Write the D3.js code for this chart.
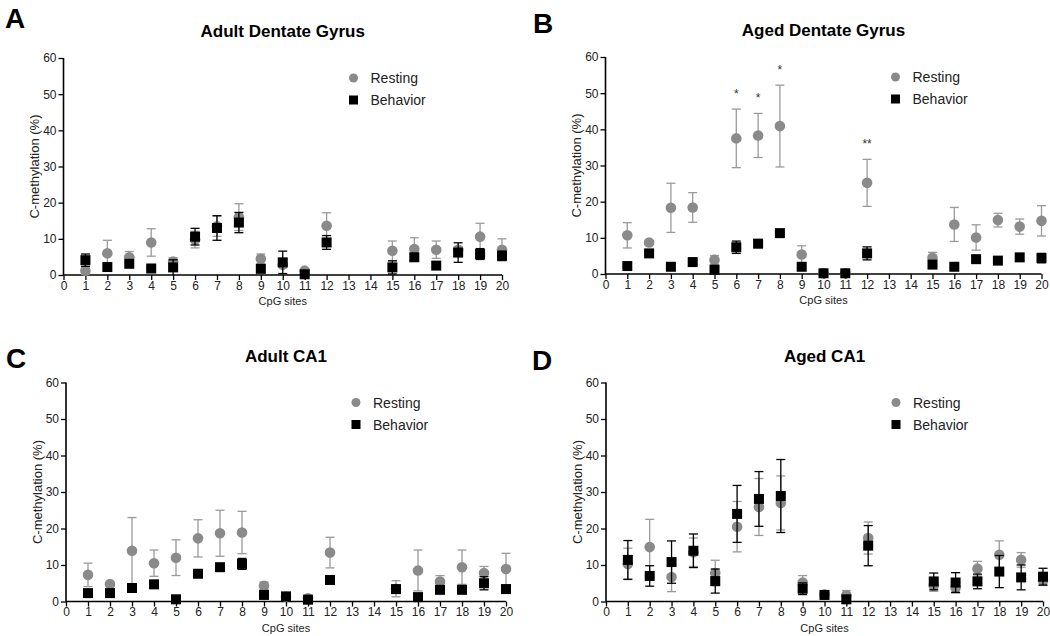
<!DOCTYPE html>
<html>
<head>
<meta charset="utf-8">
<script src="https://cdn.jsdelivr.net/npm/d3@7"></script>
<style>
  html, body { margin: 0; padding: 0; background: #fff; }
  svg { display: block; font-family: "Liberation Sans", Arial, sans-serif; }
</style>
</head>
<body>
<svg id="chart" width="1050" height="636"></svg>
<script>
// ---------- data ----------
const sites = [1, 2, 3, 4, 5, 6, 7, 8, 9, 10, 11, 12, 15, 16, 17, 18, 19, 20];
const xTickLabels = [0, 1, 2, 3, 4, 5, 6, 7, 8, 9, 10, 11, 12, 13, 14, 15, 16, 17, 18, 19, 20];
const yTickLabels = [0, 10, 20, 30, 40, 50, 60];
const panelLetters = ["A", "B", "C", "D"];
const panelTitles = ["Adult Dentate Gyrus", "Aged Dentate Gyrus", "Adult CA1", "Aged CA1"];
const seriesNames = ["Resting", "Behavior"];

// Adult Dentate Gyrus
const adultDGResting     = [1.2, 6.0, 4.9, 9.0, 3.7, 9.8, 13.5, 16.0, 4.5, 2.8, 1.2, 13.6, 6.7, 7.2, 7.0, 7.0, 10.6, 7.0];
const adultDGRestingErr  = [1.0, 3.6, 1.6, 3.8, 1.1, 2.3, 2.8, 3.7, 1.3, 0.6, 0.4, 3.6, 2.7, 3.1, 2.4, 0.9, 3.7, 3.0];
const adultDGBehavior    = [4.1, 2.2, 3.1, 1.8, 2.1, 10.6, 13.0, 14.5, 1.7, 3.5, 0.2, 9.0, 2.1, 4.9, 2.6, 6.2, 5.8, 5.3];
const adultDGBehaviorErr = [1.7, 0.5, 0.5, 0.3, 2.1, 2.3, 3.4, 2.8, 0.5, 3.1, 0.3, 1.9, 1.8, 1.0, 0.4, 2.7, 1.5, 1.3];

// Aged Dentate Gyrus
const agedDGResting     = [10.7, 8.7, 18.3, 18.4, 3.9, 37.5, 38.3, 40.9, 5.4, 0.2, 0.2, 25.2, 4.5, 13.7, 10.1, 14.9, 13.1, 14.7];
const agedDGRestingErr  = [3.5, 0.4, 6.8, 4.1, 1.2, 8.1, 6.1, 11.3, 2.4, 0.1, 0.1, 6.5, 1.5, 4.7, 3.5, 1.9, 2.1, 4.2];
const agedDGBehavior    = [2.2, 5.7, 2.0, 3.3, 1.2, 7.4, 8.4, 11.3, 2.0, 0.2, 0.2, 5.7, 2.6, 2.0, 4.1, 3.7, 4.6, 4.4];
const agedDGBehaviorErr = [0.3, 0.5, 0.3, 0.5, 0.3, 1.7, 1.1, 0.4, 0.3, 0.1, 0.1, 1.8, 0.4, 0.3, 0.6, 0.4, 1.0, 1.3];
const agedDGStarSites = [6, 7, 8, 12];
const agedDGStarMarks = ["*", "*", "*", "**"];

// Adult CA1
const adultCA1Resting     = [7.3, 4.8, 13.9, 10.5, 12.0, 17.3, 18.7, 18.9, 4.3, 1.3, 0.9, 13.4, 3.5, 8.5, 5.5, 9.4, 7.8, 8.9];
const adultCA1RestingErr  = [3.2, 0.4, 9.1, 3.6, 4.9, 5.1, 6.3, 5.8, 1.0, 0.5, 0.4, 4.2, 2.2, 5.6, 1.6, 4.7, 1.8, 4.3];
const adultCA1Behavior    = [2.3, 2.3, 3.7, 4.7, 0.6, 7.6, 9.4, 10.3, 1.8, 1.4, 0.5, 5.9, 3.4, 1.2, 3.2, 3.2, 5.0, 3.4];
const adultCA1BehaviorErr = [0.3, 0.3, 0.5, 0.5, 0.3, 0.5, 0.7, 1.5, 0.3, 0.8, 0.3, 0.8, 0.5, 0.3, 0.4, 0.4, 1.8, 0.4];

// Aged CA1
const agedCA1Resting     = [10.3, 14.9, 6.7, 13.5, 7.8, 20.5, 25.9, 27.0, 5.2, 1.9, 1.7, 17.4, 4.3, 3.8, 9.0, 12.8, 11.4, 5.7];
const agedCA1RestingErr  = [4.3, 7.6, 4.0, 3.9, 3.5, 6.9, 7.8, 7.4, 1.9, 1.0, 1.3, 4.4, 1.5, 1.5, 2.0, 3.8, 2.0, 1.3];
const agedCA1Behavior    = [11.4, 7.0, 10.8, 13.9, 5.6, 24.0, 28.1, 28.9, 3.5, 1.8, 0.6, 15.3, 5.5, 5.2, 5.5, 8.2, 6.6, 6.8];
const agedCA1BehaviorErr = [5.3, 2.8, 5.8, 4.6, 3.3, 7.8, 7.5, 10.0, 1.6, 1.0, 0.5, 5.5, 2.3, 2.7, 2.0, 4.4, 3.4, 2.3];

// ---------- layout ----------
const layouts = [
  { xL: 63.5, xR: 502,    yB: 275,   yT: 58,    letterX: 5,   letterY: 28 },
  { xL: 605.5, xR: 1041.5, yB: 274,  yT: 57,    letterX: 533, letterY: 33 },
  { xL: 66,   xR: 506,    yB: 601.5, yT: 382.5, letterX: 6,   letterY: 368 },
  { xL: 606,  xR: 1043,   yB: 601.5, yT: 382.5, letterX: 532, letterY: 370 }
];

const panelData = [
  { r: adultDGResting, re: adultDGRestingErr, b: adultDGBehavior, be: adultDGBehaviorErr },
  { r: agedDGResting, re: agedDGRestingErr, b: agedDGBehavior, be: agedDGBehaviorErr,
    stars: agedDGStarSites.map((s, i) => ({ site: s, mark: agedDGStarMarks[i] })) },
  { r: adultCA1Resting, re: adultCA1RestingErr, b: adultCA1Behavior, be: adultCA1BehaviorErr },
  { r: agedCA1Resting, re: agedCA1RestingErr, b: agedCA1Behavior, be: agedCA1BehaviorErr }
];

const restColor = "#8a8a8a";
const restBarColor = "#9a9a9a";
const behColor = "#000000";
const textColor = "#222";

const svg = d3.select("#chart");

layouts.forEach((L, pi) => {
  const D = panelData[pi];
  const g = svg.append("g");
  const x = d3.scaleLinear().domain([0, 20]).range([L.xL, L.xR]);
  const y = d3.scaleLinear().domain([0, 60]).range([L.yB, L.yT]);

  // panel letter
  g.append("text")
    .attr("x", L.letterX).attr("y", L.letterY)
    .attr("font-size", 28).attr("font-weight", "bold").attr("fill", "#000")
    .text(panelLetters[pi]);

  // title
  g.append("text")
    .attr("x", (L.xL + L.xR) / 2).attr("y", L.yT - 21)
    .attr("text-anchor", "middle")
    .attr("font-size", 17).attr("font-weight", "bold").attr("fill", "#000")
    .text(panelTitles[pi]);

  // axes
  const yAxis = d3.axisLeft(y).tickValues(yTickLabels).tickSize(5).tickPadding(2).tickFormat(d3.format("d"));
  const yg = g.append("g").attr("transform", `translate(${L.xL},0)`).call(yAxis);
  const xAxis = d3.axisBottom(x).tickValues(xTickLabels).tickSize(5).tickPadding(1).tickFormat(d3.format("d"));
  const xg = g.append("g").attr("transform", `translate(0,${L.yB})`).call(xAxis);
  [yg, xg].forEach(a => {
    a.select(".domain").attr("stroke", "#000").attr("stroke-width", 1.6);
    a.selectAll(".tick line").attr("stroke", "#000").attr("stroke-width", 1.3);
    a.selectAll(".tick text").attr("font-size", 12).attr("fill", textColor)
      .attr("font-family", "'Liberation Sans', Arial, sans-serif");
  });
  yg.select(".domain").attr("d", `M0,${L.yB}V${L.yT}`);
  xg.select(".domain").attr("d", `M${L.xL},0H${L.xR}`);

  // axis titles
  g.append("text")
    .attr("transform", `translate(${L.xL - 29},${(L.yB + L.yT) / 2}) rotate(-90)`)
    .attr("text-anchor", "middle").attr("dominant-baseline", "central")
    .attr("font-size", 13).attr("fill", textColor)
    .text("C-methylation (%)");
  g.append("text")
    .attr("x", (L.xL + L.xR) / 2).attr("y", L.yB + 30)
    .attr("text-anchor", "middle")
    .attr("font-size", 11).attr("fill", textColor)
    .text("CpG sites");

  // series
  const rest = sites.map((s, i) => ({ s, v: D.r[i], e: D.re[i] }));
  const beh = sites.map((s, i) => ({ s, v: D.b[i], e: D.be[i] }));
  const cap = 4.5;

  function errBars(data, color, cls) {
    const eg = g.append("g").attr("class", cls).attr("stroke", color).attr("stroke-width", 1.3).attr("fill", "none");
    data.forEach(d => {
      const lo = Math.max(0, d.v - d.e), hi = d.v + d.e;
      const cx = x(d.s);
      eg.append("line").attr("x1", cx).attr("x2", cx).attr("y1", y(lo)).attr("y2", y(hi));
      eg.append("line").attr("x1", cx - cap).attr("x2", cx + cap).attr("y1", y(hi)).attr("y2", y(hi));
      if (d.v - d.e > 0) eg.append("line").attr("x1", cx - cap).attr("x2", cx + cap).attr("y1", y(lo)).attr("y2", y(lo));
    });
  }

  errBars(rest, restBarColor, "rest-err");
  g.append("g").selectAll("circle").data(rest).join("circle")
    .attr("cx", d => x(d.s)).attr("cy", d => y(d.v)).attr("r", 5.3)
    .attr("fill", restColor);

  errBars(beh, behColor, "beh-err");
  const sq = 10;
  g.append("g").selectAll("rect").data(beh).join("rect")
    .attr("x", d => x(d.s) - sq / 2).attr("y", d => y(d.v) - sq / 2)
    .attr("width", sq).attr("height", sq)
    .attr("fill", behColor);

  // significance marks
  if (D.stars) {
    D.stars.forEach(st => {
      const i = sites.indexOf(st.site);
      const top = D.r[i] + D.re[i];
      g.append("text")
        .attr("x", x(st.site)).attr("y", y(top) - 11)
        .attr("text-anchor", "middle").attr("font-size", 12).attr("fill", "#333")
        .text(st.mark);
    });
  }

  // legend
  const lx = L.xL + 290, ly = L.yT + 20;
  const lg = g.append("g");
  lg.append("circle").attr("cx", lx).attr("cy", ly).attr("r", 4.5).attr("fill", restColor);
  lg.append("rect").attr("x", lx - 4.5).attr("y", ly + 22 - 4.5).attr("width", 9).attr("height", 9).attr("fill", behColor);
  seriesNames.forEach((n, k) => {
    lg.append("text").attr("x", lx + 17).attr("y", ly + k * 22)
      .attr("dominant-baseline", "central")
      .attr("font-size", 14).attr("fill", textColor).text(n);
  });
});
</script>
</body>
</html>
